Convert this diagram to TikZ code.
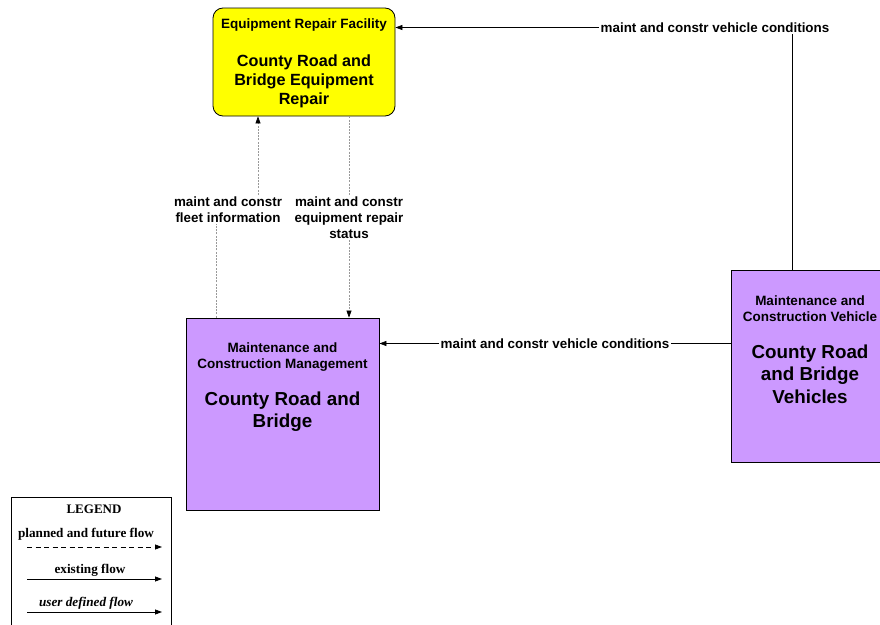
\documentclass[tikz,border=0pt]{standalone}
\usepackage{fontspec}
\setmainfont{Liberation Sans}
\newfontfamily\legfont{Liberation Serif}
\usetikzlibrary{arrows.meta}
\definecolor{facyellow}{HTML}{FFFF00}
\definecolor{entpurple}{HTML}{CC99FF}
\tikzset{
  facbox/.style={draw=black, line width=0.8pt, fill=facyellow, rounded corners=10pt},
  entbox/.style={draw=black, line width=0.8pt, fill=entpurple},
  lbl/.style={inner sep=1.5pt, align=center, font=\fontsize{13.4}{16}\selectfont\bfseries},
  tip/.style={-{Triangle[length=7pt,width=5pt,color=black]}},
  exist/.style={draw=black, line width=0.7pt},
  plan/.style={draw=black!40, line width=0.6pt, dash pattern=on 2pt off 1.2pt},
  legtext/.style={inner sep=0pt, font=\legfont\fontsize{13.2}{15}\selectfont\bfseries},
}
\begin{document}
\begin{tikzpicture}[x=1pt,y=-1pt]
\useasboundingbox (0,0) rectangle (880,624);
% boxes
\node[facbox, minimum width=182pt, minimum height=108pt] (erf) at (304,62) {};
\node[entbox, minimum width=193pt, minimum height=192pt] (lb) at (282.5,414) {};
\node[entbox, minimum width=158pt, minimum height=192pt] (rb) at (810,366) {};
% box texts
\node[inner sep=0pt, font=\fontsize{13.5}{16}\selectfont\bfseries] (erft) at (304,25) {Equipment Repair Facility};
\node[inner sep=0pt, align=center, font=\fontsize{16.2}{19}\selectfont\bfseries] (erfn) at (304,81) {County Road and\\Bridge Equipment\\Repair};
\node[inner sep=0pt, align=center, font=\fontsize{13.5}{16}\selectfont\bfseries] (lbt) at (282.5,357) {Maintenance and\\Construction Management};
\node[inner sep=0pt, align=center, font=\fontsize{18.8}{22}\selectfont\bfseries] (lbn) at (282.5,412) {County Road and\\Bridge};
\node[inner sep=0pt, align=center, font=\fontsize{13.5}{16}\selectfont\bfseries] (rbt) at (810,308.5) {Maintenance and\\Construction Vehicle};
\node[inner sep=0pt, align=center, font=\fontsize{18.8}{22.5}\selectfont\bfseries] (rbn) at (810,374) {County Road\\and Bridge\\Vehicles};
% labels
\node[lbl] (l1) at (715,27.5) {maint and constr vehicle conditions};
\node[lbl] (l2) at (555,343.5) {maint and constr vehicle conditions};
\node[lbl] (l3) at (228,209.5) {maint and constr\\fleet information};
\node[lbl] (l4) at (349,217.5) {maint and constr\\equipment repair\\status};
\coordinate (c1) at (792,0);
\coordinate (f1) at (216,0);
\coordinate (f2) at (258,0);
% connectors
\draw[exist] (rb.north -| c1) -- (c1 |- l1.south);
\draw[exist, tip] (l1.west) -- (erf.east |- l1);
\draw[exist] (rb.west |- l2) -- (l2.east);
\draw[exist, tip] (l2.west) -- (lb.east |- l2);
\draw[plan] (lb.north -| f1) -- (f1 |- l3.south);
\draw[plan, tip] (f2 |- l3.north) -- (erf.south -| f2);
\draw[plan] (erf.south -| l4) -- (l4.north);
\draw[plan, tip] (l4.south) -- (lb.north -| l4);
% legend
\draw[black, line width=0.8pt] (11,640) -- (11,497) -- (171,497) -- (171,640);
\node[legtext, font=\legfont\fontsize{13}{15}\selectfont\bfseries] (lg) at (94,509.5) {LEGEND};
\node[legtext] (lg1) at (86,534.5) {planned and future flow};
\node[legtext] (lg2) at (90,570.5) {existing flow};
\node[legtext, font=\legfont\fontsize{13.2}{15}\selectfont\bfseries\itshape] (lg3) at (86,603.5) {user defined flow};
\coordinate (a1) at (27,547); \coordinate (b1) at (162,547);
\coordinate (a2) at (27,579); \coordinate (b2) at (162,579);
\coordinate (a3) at (27,612); \coordinate (b3) at (162,612);
\draw[black, line width=0.8pt, dash pattern=on 5pt off 3.5pt, tip] (a1) -- (b1);
\draw[black, line width=0.8pt, tip] (a2) -- (b2);
\draw[black, line width=0.8pt, tip] (a3) -- (b3);
\end{tikzpicture}
\end{document}
